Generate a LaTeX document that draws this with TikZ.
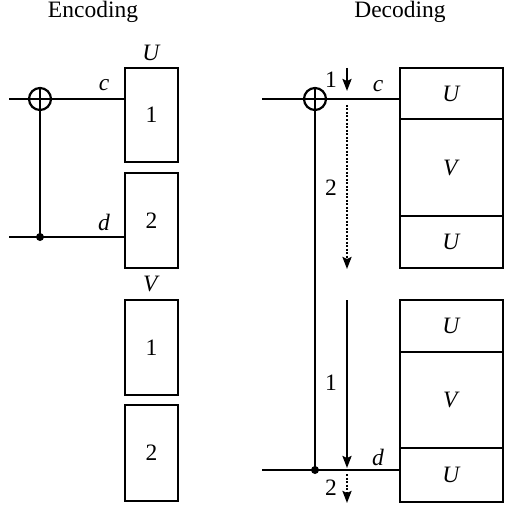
\documentclass[tikz,border=0pt]{standalone}
\usepackage{fontspec}
\setmainfont{Liberation Serif}
\usetikzlibrary{arrows.meta}
\begin{document}
\begin{tikzpicture}[x=1pt,y=-1pt,
  wire/.style={line width=2.2pt},
  blk/.style={draw,line width=2.2pt,inner sep=0pt,font=\fontsize{23.5}{27}\selectfont},
  lbl/.style={inner sep=0pt,font=\fontsize{23.5}{27}\selectfont},
  xorc/.style={draw,circle,line width=2.2pt,minimum size=22pt,inner sep=0pt},
  dotc/.style={fill,circle,minimum size=8pt,inner sep=0pt},
  arr/.style={line width=2.2pt,-{Stealth[length=12pt,width=9pt,inset=2pt]}},
  darr/.style={arr,dash pattern=on 2pt off 1.5pt}]
\useasboundingbox (0,0) rectangle (505,508);
% titles
\node[lbl] (tenc) at (93,12) {Encoding};
\node[lbl] (tdec) at (400,12) {Decoding};
% ---------- Encoding ----------
\node[blk,minimum width=53pt,minimum height=94pt] (eU1) at (151.5,115) {1};
\node[blk,minimum width=53pt,minimum height=95pt] (eU2) at (151.5,220.5) {2};
\node[blk,minimum width=53pt,minimum height=95pt] (eV1) at (151.5,347.5) {1};
\node[blk,minimum width=53pt,minimum height=96pt] (eV2) at (151.5,453) {2};
\node[lbl] (eUl) at (151.5,53) {\textit{U}};
\node[lbl] (eVl) at (151.5,284) {\textit{V}};
\coordinate (eca) at (9,99);
\coordinate (eda) at (9,237);
\node[xorc] (ex) at (40,99) {};
\node[dotc] (edot) at (40,237) {};
\draw[wire] (eca) -- (eca -| eU1.west);
\draw[wire] (eda) -- (eda -| eU2.west);
\draw[wire] (ex.north) -- (edot.center);
\node[lbl] (ecl) at (104,85) {\textit{c}};
\node[lbl] (edl) at (104,222) {\textit{d}};
% ---------- Decoding ----------
\node[blk,minimum width=103pt,minimum height=51pt] (dU1) at (451.5,93.5) {\textit{U}};
\node[blk,minimum width=103pt,minimum height=97pt] (dV1) at (451.5,167.5) {\textit{V}};
\node[blk,minimum width=103pt,minimum height=52pt] (dU2) at (451.5,242) {\textit{U}};
\node[blk,minimum width=103pt,minimum height=52pt] (dU3) at (451.5,326) {\textit{U}};
\node[blk,minimum width=103pt,minimum height=96pt] (dV2) at (451.5,400) {\textit{V}};
\node[blk,minimum width=103pt,minimum height=54pt] (dU4) at (451.5,475) {\textit{U}};
\coordinate (dca) at (262,99);
\coordinate (dda) at (262,470);
\node[xorc] (dx) at (315,99) {};
\node[dotc] (ddot) at (315,470) {};
\draw[wire] (dca) -- (dca -| dU1.west);
\draw[wire] (dda) -- (dda -| dU4.west);
\draw[wire] (dx.north) -- (ddot.center);
\node[lbl] (dcl) at (378,86) {\textit{c}};
\node[lbl] (ddl) at (378,457) {\textit{d}};
% step arrows
\coordinate (a1s) at (347,68);  \coordinate (a1e) at (347,91);
\coordinate (a2s) at (347,105); \coordinate (a2e) at (347,269);
\coordinate (a3s) at (347,300); \coordinate (a3e) at (347,468);
\coordinate (a4s) at (347,474); \coordinate (a4e) at (347,503);
\draw[arr] (a1s) -- (a1e);
\draw[darr] (a2s) -- (a2e);
\draw[arr] (a3s) -- (a3e);
\draw[darr] (a4s) -- (a4e);
\node[lbl] (n1a) at (331,80) {1};
\node[lbl] (n2a) at (331,188) {2};
\node[lbl] (n1b) at (331,383) {1};
\node[lbl] (n2b) at (331,488) {2};
\end{tikzpicture}
\end{document}
